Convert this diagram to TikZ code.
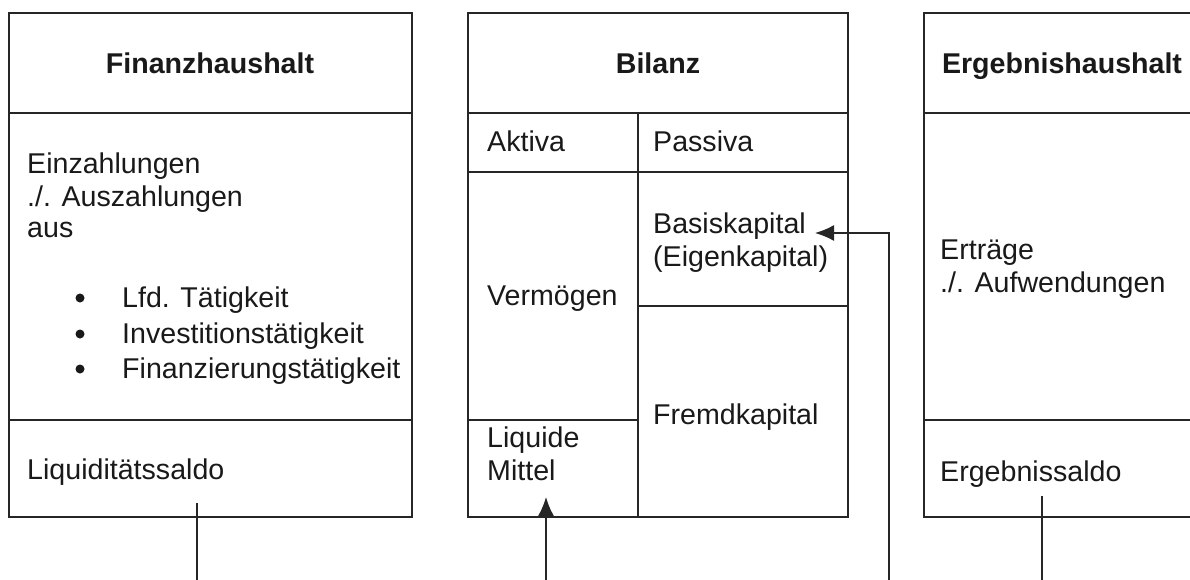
\documentclass[tikz,border=0pt]{standalone}
\usepackage{fontspec}
\setmainfont{Liberation Sans}
\usetikzlibrary{arrows.meta}

\tikzset{
  linie/.style={line width=1.5pt, draw=black!85},
  txt/.style={anchor=base west, inner sep=0pt, text=black!90, font=\fontsize{28.6}{31.5}\selectfont},
  titel/.style={anchor=base, inner sep=0pt, text=black!90, font=\fontsize{28.6}{31.5}\selectfont\bfseries},
  pfeil/.style={linie, -{Latex[length=19pt,width=16pt]}}
}

\begin{document}
\begin{tikzpicture}[x=1pt, y=-1pt]
                    \useasboundingbox (0,0) rectangle (1190,580);
                    \clip (0,0) rectangle (1190,580);
                    % Finanzhaushalt
                    \draw[linie] (9,13) rectangle (412,517);
                    \draw[linie] (9,113) -- (412,113);
                    \draw[linie] (9,420) -- (412,420);
                    \node[titel] (fh) at (210,74) {Finanzhaushalt};
                    \node[txt] (ein) at (27,174) {Einzahlungen};
                    \node[txt] (aus1) at (27,206) {./. Auszahlungen};
                    \node[txt] (aus2) at (27,237) {aus};
                    \fill[black!90] (80,298) circle (4.5) (80,334) circle (4.5) (80,369) circle (4.5);
                    \node[txt] (lfd) at (122,307) {Lfd. Tätigkeit};
                    \node[txt] (inv) at (122,343) {Investitionstätigkeit};
                    \node[txt] (fin) at (122,378) {Finanzierungstätigkeit};
                    \node[txt] (lsaldo) at (27,479) {Liquiditätssaldo};
                    % Bilanz
                    \draw[linie] (468,13) rectangle (848,517);
                    \draw[linie] (468,113) -- (848,113);
                    \draw[linie] (468,172) -- (848,172);
                    \draw[linie] (638,113) -- (638,517);
                    \draw[linie] (638,306) -- (848,306);
                    \draw[linie] (468,420) -- (638,420);
                    \node[titel] (bil) at (658,74) {Bilanz};
                    \node[txt] (akt) at (487,152) {Aktiva};
                    \node[txt] (pas) at (653,152) {Passiva};
                    \node[txt] (basis) at (653,233) {Basiskapital};
                    \node[txt] (eigen) at (653,266) {(Eigenkapital)};
                    \node[txt] (verm) at (487,305) {Vermögen};
                    \node[txt] (fremd) at (653,424) {Fremdkapital};
                    \node[txt] (liq) at (487,447) {Liquide};
                    \node[txt] (mittel) at (487,480) {Mittel};
                    % Ergebnishaushalt
                    \draw[linie] (924,13) rectangle (1200,517);
                    \draw[linie] (924,113) -- (1200,113);
                    \draw[linie] (924,420) -- (1200,420);
                    \node[titel] (eh) at (1062,74) {Ergebnishaushalt};
                    \node[txt] (ertr) at (940,259) {Erträge};
                    \node[txt] (aufw) at (940,292) {./. Aufwendungen};
                    \node[txt] (esaldo) at (940,481) {Ergebnissaldo};
                    % Verbindungen
                    \coordinate (fstart) at (197,503);
                    \coordinate (fend) at (197,580);
                    \coordinate (lstart) at (546,580);
                    \coordinate (lend) at (546,497);
                    \coordinate (estart) at (1042,496);
                    \coordinate (eend) at (1042,580);
                    \coordinate (bstart) at (889,580);
                    \draw[linie] (fstart) -- (fend);
                    \draw[pfeil] (lstart) -- (lend);
                    \draw[linie] (estart) -- (eend);
                    \draw[pfeil] (bstart) |- ([xshift=9pt]basis.base east);
                \end{tikzpicture}
\end{document}
